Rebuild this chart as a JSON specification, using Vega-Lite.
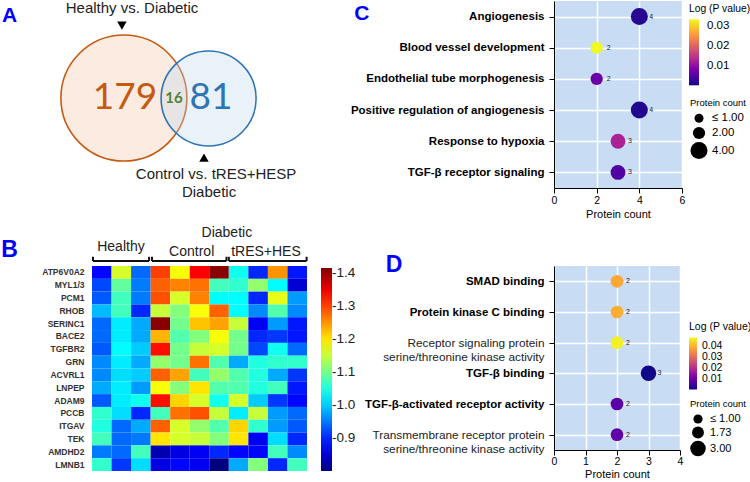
{
  "$schema": "https://vega.github.io/schema/vega-lite/v6.json",
  "background": "white",
  "padding": {"left": 1, "top": 1, "right": 0, "bottom": 0},
  "autosize": {"type": "pad"},
  "config": {
    "font": "Liberation Sans",
    "view": {"stroke": null},
    "axis": {"domainColor": "#000", "tickColor": "#000", "labelColor": "#000", "titleColor": "#000", "gridColor": "#ffffff", "gridWidth": 1.5},
    "legend": {"titleFontWeight": "normal", "titleColor": "#000", "labelColor": "#000"}
  },
  "columns": 2,
  "align": "none",
  "bounds": "flush",
  "spacing": {"row": 78, "column": 242},
  "resolve": {
    "scale": {"x": "independent", "y": "independent", "color": "independent", "size": "independent", "fill": "independent", "stroke": "independent", "shape": "independent"},
    "legend": {"color": "independent", "size": "independent"}
  },
  "concat": [
    {
      "width": 220,
      "height": 187,
      "encoding": {
        "x": {"field": "x", "type": "quantitative", "scale": {"domain": [0, 100], "nice": false, "zero": false}, "axis": null},
        "y": {"field": "y", "type": "quantitative", "scale": {"domain": [0, 85], "reverse": true, "nice": false, "zero": false}, "axis": null}
      },
      "layer": [
        {
          "data": {"values": [
            {"set": "Healthy vs. Diabetic", "x": 14.5, "y": 44.1, "n": 195},
            {"set": "Control vs. tRES+HES", "x": 53.0, "y": 44.3, "n": 97}
          ]},
          "mark": {"type": "point", "shape": "circle", "filled": true, "opacity": 1, "fillOpacity": 0.35, "strokeOpacity": 1, "strokeWidth": 1.6},
          "encoding": {
            "fill": {"field": "set", "type": "nominal", "scale": {"domain": ["Healthy vs. Diabetic", "Control vs. tRES+HES"], "range": ["#f6c6a6", "#c0d7ee"]}, "legend": null},
            "stroke": {"field": "set", "type": "nominal", "scale": {"domain": ["Healthy vs. Diabetic", "Control vs. tRES+HES"], "range": ["#c55a11", "#2e75b6"]}, "legend": null},
            "size": {"field": "n", "type": "quantitative", "scale": {"domain": [97, 195], "range": [9025, 15876]}, "legend": null},
            "order": {"field": "n", "sort": "descending"}
          }
        },
        {
          "data": {"values": [
            {"dir": "down", "x": 13.6, "y": 11.2},
            {"dir": "up", "x": 50.9, "y": 71.2}
          ]},
          "mark": {"type": "point", "filled": true, "opacity": 1, "color": "#000", "size": 90},
          "encoding": {
            "shape": {"field": "dir", "type": "nominal", "scale": {"domain": ["down", "up"], "range": ["triangle-down", "triangle-up"]}, "legend": null}
          }
        },
        {
          "mark": {"type": "rule", "color": "#000", "strokeWidth": 1.2},
          "encoding": {
            "x": {"datum": 5.5, "type": "quantitative"},
            "x2": {"datum": 84.1},
            "y": {"datum": 82.7, "type": "quantitative"}
          }
        },
        {
          "data": {"values": [
            {"set": "Healthy vs. Diabetic", "text": "179", "x": 15.0, "y": 44.1},
            {"set": "Control vs. tRES+HES", "text": "81", "x": 54.1, "y": 44.1}
          ]},
          "mark": {"type": "text", "font": "Lato", "fontSize": 37, "baseline": "middle", "align": "center"},
          "encoding": {
            "text": {"field": "text"},
            "color": {"field": "set", "type": "nominal", "scale": {"domain": ["Healthy vs. Diabetic", "Control vs. tRES+HES"], "range": ["#c55a11", "#2e75b6"]}, "legend": null}
          }
        },
        {
          "data": {"values": [{"text": "16", "x": 37.3, "y": 44.1}]},
          "mark": {"type": "text", "font": "Lato", "fontSize": 15, "fontWeight": "bold", "baseline": "middle", "align": "center", "color": "#548235"},
          "encoding": {"text": {"field": "text"}}
        },
        {
          "data": {"values": [
            {"text": "Healthy vs. Diabetic", "x": 18.2, "y": 3.4},
            {"text": "Control vs. tRES+HESP", "x": 56.4, "y": 78.6},
            {"text": "Diabetic", "x": 53.2, "y": 86.8}
          ]},
          "mark": {"type": "text", "fontSize": 15, "baseline": "middle", "align": "center", "color": "#222"},
          "encoding": {"text": {"field": "text"}}
        },
        {
          "data": {"values": [
            {"text": "A", "x": -37.5, "y": 6.8},
            {"text": "C", "x": 122.7, "y": 5.7}
          ]},
          "mark": {"type": "text", "fontSize": 21, "fontWeight": "bold", "baseline": "middle", "align": "center", "color": "#0000ff"},
          "encoding": {"text": {"field": "text"}}
        }
      ]
    },
    {
      "width": 128,
      "height": 187,
      "view": {"fill": "#c8dcf4", "stroke": null},
      "data": {"values": [
        {"term": "Angiogenesis", "count": 4, "logp": 0.0015},
        {"term": "Blood vessel development", "count": 2, "logp": 0.0335},
        {"term": "Endothelial tube morphogenesis", "count": 2, "logp": 0.0068},
        {"term": "Positive regulation of angiogenesis", "count": 4, "logp": 0.001},
        {"term": "Response to hypoxia", "count": 3, "logp": 0.0125},
        {"term": "TGF-β receptor signaling", "count": 3, "logp": 0.0045}
      ]},
      "encoding": {
        "y": {"field": "term", "type": "nominal", "sort": ["Angiogenesis", "Blood vessel development", "Endothelial tube morphogenesis", "Positive regulation of angiogenesis", "Response to hypoxia", "TGF-β receptor signaling"], "title": null,
          "axis": {"labelFontSize": 11.5, "labelFontWeight": "bold", "labelLimit": 300, "tickSize": 5, "labelPadding": 5, "grid": true, "domainColor": "#000", "domainWidth": 1}},
        "x": {"field": "count", "type": "quantitative", "scale": {"domain": [0, 6], "nice": false},
          "axis": {"title": "Protein count", "values": [0, 2, 4, 6], "grid": true, "labelFontSize": 10.5, "titleFontSize": 11, "titleFontWeight": "normal", "tickSize": 5, "labelPadding": 2, "titlePadding": 3, "labelFlush": false}}
      },
      "layer": [
        {
          "mark": {"type": "point", "shape": "circle", "filled": true, "opacity": 1},
          "encoding": {
            "size": {"field": "count", "type": "quantitative", "scale": {"domain": [1, 4], "range": [80, 290]},
              "legend": {"title": "Protein count", "orient": "none", "legendX": 136, "legendY": 97, "values": [1, 2, 4], "titleFontSize": 9.5, "labelFontSize": 11.5, "symbolType": "circle", "symbolFillColor": "#000", "symbolStrokeWidth": 0, "symbolOpacity": 1, "labelExpr": "datum.value <= 1 ? '≤  1.00' : format(datum.value, '.2f')", "rowPadding": 2}},
            "color": {"field": "logp", "type": "quantitative", "scale": {"scheme": "plasma", "domain": [0, 0.0335]},
              "legend": {"title": "Log (P value)", "orient": "none", "legendX": 135, "legendY": 3, "direction": "vertical", "values": [0.01, 0.02, 0.03], "format": ".2f", "gradientLength": 66, "gradientThickness": 10, "gradientStrokeWidth": 0, "titleFontSize": 10.3, "labelFontSize": 11.5, "labelOffset": 8}}
          }
        },
        {
          "mark": {"type": "text", "align": "left", "dx": 10, "fontSize": 7, "color": "#222", "baseline": "middle"},
          "encoding": {"text": {"field": "count"}}
        }
      ]
    },
    {
      "width": 215,
      "height": 205,
      "view": {"stroke": null},
      "resolve": {"scale": {"x": "independent", "y": "independent"}},
      "layer": [
        {
          "data": {"values": [
            {"gene": "ATP6V0A2", "H1": 0.88, "H2": 1.16, "H3": 0.94, "C1": 1.30, "C2": 1.18, "C3": 1.34, "C4": 1.41, "T1": 1.04, "T2": 0.90, "T3": 1.25, "T4": 0.89},
            {"gene": "MYL1/3", "H1": 0.92, "H2": 1.09, "H3": 0.95, "C1": 1.28, "C2": 1.26, "C3": 1.27, "C4": 1.07, "T1": 1.06, "T2": 1.12, "T3": 1.03, "T4": 0.85},
            {"gene": "PCM1", "H1": 0.93, "H2": 1.07, "H3": 0.95, "C1": 1.29, "C2": 1.16, "C3": 1.26, "C4": 1.03, "T1": 1.03, "T2": 0.90, "T3": 1.17, "T4": 0.97},
            {"gene": "RHOB", "H1": 0.99, "H2": 1.07, "H3": 0.90, "C1": 1.15, "C2": 1.11, "C3": 1.18, "C4": 1.28, "T1": 1.03, "T2": 0.96, "T3": 1.08, "T4": 0.96},
            {"gene": "SERINC1", "H1": 0.94, "H2": 1.02, "H3": 0.98, "C1": 1.41, "C2": 1.10, "C3": 1.22, "C4": 1.24, "T1": 1.15, "T2": 0.87, "T3": 0.97, "T4": 0.89},
            {"gene": "BACE2", "H1": 0.94, "H2": 1.02, "H3": 0.98, "C1": 1.23, "C2": 1.08, "C3": 1.11, "C4": 1.18, "T1": 1.10, "T2": 0.90, "T3": 0.91, "T4": 0.89},
            {"gene": "TGFBR2", "H1": 0.93, "H2": 1.03, "H3": 1.00, "C1": 1.33, "C2": 1.10, "C3": 1.15, "C4": 1.16, "T1": 1.10, "T2": 0.92, "T3": 1.04, "T4": 0.94},
            {"gene": "GRN", "H1": 0.96, "H2": 1.02, "H3": 0.98, "C1": 1.12, "C2": 1.10, "C3": 1.27, "C4": 1.08, "T1": 0.98, "T2": 1.05, "T3": 1.06, "T4": 1.06},
            {"gene": "ACVRL1", "H1": 0.96, "H2": 1.01, "H3": 1.00, "C1": 1.28, "C2": 1.24, "C3": 1.07, "C4": 1.12, "T1": 1.08, "T2": 1.05, "T3": 0.98, "T4": 0.91},
            {"gene": "LNPEP", "H1": 0.98, "H2": 1.02, "H3": 0.97, "C1": 1.18, "C2": 1.11, "C3": 1.20, "C4": 1.08, "T1": 1.08, "T2": 1.05, "T3": 1.07, "T4": 0.89},
            {"gene": "ADAM9", "H1": 0.93, "H2": 1.02, "H3": 1.04, "C1": 1.33, "C2": 1.21, "C3": 1.16, "C4": 1.04, "T1": 1.16, "T2": 1.00, "T3": 0.91, "T4": 0.88},
            {"gene": "PCCB", "H1": 1.06, "H2": 1.01, "H3": 0.90, "C1": 1.07, "C2": 1.27, "C3": 1.29, "C4": 1.15, "T1": 1.02, "T2": 1.15, "T3": 0.97, "T4": 0.94},
            {"gene": "ITGAV", "H1": 1.05, "H2": 0.94, "H3": 0.98, "C1": 1.28, "C2": 1.16, "C3": 1.12, "C4": 1.08, "T1": 1.21, "T2": 1.06, "T3": 0.97, "T4": 0.93},
            {"gene": "TEK", "H1": 1.07, "H2": 0.94, "H3": 0.95, "C1": 1.20, "C2": 1.16, "C3": 1.15, "C4": 1.11, "T1": 1.20, "T2": 0.87, "T3": 1.01, "T4": 0.90},
            {"gene": "AMDHD2", "H1": 0.95, "H2": 0.94, "H3": 1.07, "C1": 0.83, "C2": 0.86, "C3": 0.87, "C4": 0.90, "T1": 0.88, "T2": 0.88, "T3": 1.07, "T4": 0.96},
            {"gene": "LMNB1", "H1": 1.06, "H2": 0.91, "H3": 1.01, "C1": 0.86, "C2": 0.88, "C3": 0.87, "C4": 0.80, "T1": 0.98, "T2": 1.11, "T3": 0.90, "T4": 1.07}
          ]},
          "transform": [{"fold": ["H1", "H2", "H3", "C1", "C2", "C3", "C4", "T1", "T2", "T3", "T4"], "as": ["sample", "value"]}],
          "mark": {"type": "rect"},
          "encoding": {
            "x": {"field": "sample", "type": "nominal", "sort": ["H1", "H2", "H3", "C1", "C2", "C3", "C4", "T1", "T2", "T3", "T4"], "scale": {"paddingInner": 0, "paddingOuter": 0}, "axis": null},
            "y": {"field": "gene", "type": "nominal", "sort": ["ATP6V0A2", "MYL1/3", "PCM1", "RHOB", "SERINC1", "BACE2", "TGFBR2", "GRN", "ACVRL1", "LNPEP", "ADAM9", "PCCB", "ITGAV", "TEK", "AMDHD2", "LMNB1"], "scale": {"paddingInner": 0, "paddingOuter": 0},
              "axis": {"title": null, "ticks": false, "domain": false, "labelFontSize": 8.5, "labelFontWeight": "bold", "labelColor": "#333", "labelPadding": 8}},
            "color": {"field": "value", "type": "quantitative",
              "scale": {"domain": [0.8, 1.415], "range": ["#000080", "#0000ff", "#0080ff", "#00ffff", "#80ff80", "#ffff00", "#ff8000", "#ff0000", "#800000"], "interpolate": "rgb"},
              "legend": {"title": null, "orient": "none", "legendX": 229, "legendY": 2, "direction": "vertical", "values": [0.9, 1.0, 1.1, 1.2, 1.3, 1.4], "format": ".1f", "labelExpr": "'-' + datum.label", "gradientLength": 203, "gradientThickness": 11, "gradientStrokeWidth": 0, "labelFontSize": 13.5, "labelOffset": 0, "labelColor": "#222"}}
          }
        },
        {
          "data": {"values": [
            {"text": "Healthy", "x": 1.48, "y": -1.48},
            {"text": "Control", "x": 5.1, "y": -1.09},
            {"text": "tRES+HES", "x": 8.9, "y": -1.09},
            {"text": "Diabetic", "x": 6.9, "y": -2.58}
          ]},
          "mark": {"type": "text", "fontSize": 14, "baseline": "middle", "align": "center", "color": "#222"},
          "encoding": {
            "x": {"field": "x", "type": "quantitative", "scale": {"domain": [0, 11], "nice": false, "zero": false}, "axis": null},
            "y": {"field": "y", "type": "quantitative", "scale": {"domain": [0, 16], "reverse": true, "nice": false, "zero": false}, "axis": null},
            "text": {"field": "text"}
          }
        },
        {
          "data": {"values": [
            {"group": "Healthy", "start": 0.05, "end": 2.92},
            {"group": "Control", "start": 3.07, "end": 6.88},
            {"group": "tRES+HES", "start": 7.0, "end": 10.98}
          ]},
          "mark": {"type": "rule", "color": "#111", "strokeWidth": 2},
          "encoding": {
            "x": {"field": "start", "type": "quantitative", "scale": {"domain": [0, 11], "nice": false, "zero": false}, "axis": null},
            "x2": {"field": "end"},
            "y": {"datum": -0.39, "type": "quantitative", "scale": {"domain": [0, 16], "reverse": true, "nice": false, "zero": false}, "axis": null}
          }
        },
        {
          "data": {"values": [
            {"group": "Healthy", "start": 0.05, "end": 2.92},
            {"group": "Control", "start": 3.07, "end": 6.88},
            {"group": "tRES+HES", "start": 7.0, "end": 10.98}
          ]},
          "mark": {"type": "rule", "color": "#111", "strokeWidth": 2},
          "encoding": {
            "x": {"field": "start", "type": "quantitative", "scale": {"domain": [0, 11], "nice": false, "zero": false}, "axis": null},
            "y": {"datum": -0.39, "type": "quantitative", "scale": {"domain": [0, 16], "reverse": true, "nice": false, "zero": false}, "axis": null},
            "y2": {"datum": -0.72}
          }
        },
        {
          "data": {"values": [
            {"group": "Healthy", "start": 0.05, "end": 2.92},
            {"group": "Control", "start": 3.07, "end": 6.88},
            {"group": "tRES+HES", "start": 7.0, "end": 10.98}
          ]},
          "mark": {"type": "rule", "color": "#111", "strokeWidth": 2},
          "encoding": {
            "x": {"field": "end", "type": "quantitative", "scale": {"domain": [0, 11], "nice": false, "zero": false}, "axis": null},
            "y": {"datum": -0.39, "type": "quantitative", "scale": {"domain": [0, 16], "reverse": true, "nice": false, "zero": false}, "axis": null},
            "y2": {"datum": -0.72}
          }
        },
        {
          "data": {"values": [
            {"text": "B", "x": -4.22, "y": -1.25},
            {"text": "D", "x": 15.45, "y": -0.08}
          ]},
          "mark": {"type": "text", "fontSize": 23, "fontWeight": "bold", "baseline": "middle", "align": "center", "color": "#0000ff"},
          "encoding": {
            "x": {"field": "x", "type": "quantitative", "scale": {"domain": [0, 11], "nice": false, "zero": false}, "axis": null},
            "y": {"field": "y", "type": "quantitative", "scale": {"domain": [0, 16], "reverse": true, "nice": false, "zero": false}, "axis": null},
            "text": {"field": "text"}
          }
        }
      ]
    },
    {
      "width": 126,
      "height": 184,
      "view": {"fill": "#c8dcf4", "stroke": null},
      "data": {"values": [
        {"term": "SMAD binding", "count": 2, "logp": 0.038},
        {"term": "Protein kinase C binding", "count": 2, "logp": 0.039},
        {"term": "Receptor signaling protein\nserine/threonine kinase activity", "count": 2, "logp": 0.0465},
        {"term": "TGF-β binding", "count": 3, "logp": 0.0003},
        {"term": "TGF-β-activated receptor activity", "count": 2, "logp": 0.0075},
        {"term": "Transmembrane receptor protein\nserine/threonine kinase activity", "count": 2, "logp": 0.0085}
      ]},
      "encoding": {
        "y": {"field": "term", "type": "nominal", "sort": ["SMAD binding", "Protein kinase C binding", "Receptor signaling protein\nserine/threonine kinase activity", "TGF-β binding", "TGF-β-activated receptor activity", "Transmembrane receptor protein\nserine/threonine kinase activity"], "title": null,
          "axis": {"labelExpr": "split(datum.label, '\\n')", "labelLineHeight": 14, "labelFontSize": {"condition": {"test": "indexof(datum.value, '\\n') >= 0", "value": 11.8}, "value": 11.5}, "labelFontWeight": {"condition": {"test": "indexof(datum.value, '\\n') >= 0", "value": "normal"}, "value": "bold"}, "labelColor": {"condition": {"test": "indexof(datum.value, '\\n') >= 0", "value": "#222"}, "value": "#000"}, "labelLimit": 300, "tickSize": 5, "labelPadding": 5, "grid": true}},
        "x": {"field": "count", "type": "quantitative", "scale": {"domain": [0, 4], "nice": false},
          "axis": {"title": "Protein count", "values": [0, 1, 2, 3, 4], "grid": true, "labelFontSize": 10.5, "titleFontSize": 11, "titleFontWeight": "normal", "tickSize": 5, "labelPadding": 1, "titlePadding": 2, "labelFlush": false}}
      },
      "layer": [
        {
          "mark": {"type": "point", "shape": "circle", "filled": true, "opacity": 1},
          "encoding": {
            "size": {"field": "count", "type": "quantitative", "scale": {"domain": [1, 3], "range": [85, 240]},
              "legend": {"title": "Protein count", "orient": "none", "legendX": 136, "legendY": 133, "values": [1, 1.73, 3], "titleFontSize": 9.5, "labelFontSize": 11, "symbolType": "circle", "symbolFillColor": "#000", "symbolStrokeWidth": 0, "symbolOpacity": 1, "labelExpr": "datum.value <= 1 ? '≤  1.00' : format(datum.value, '.2f')", "rowPadding": 2}},
            "color": {"field": "logp", "type": "quantitative", "scale": {"scheme": "plasma", "domain": [0, 0.0475]},
              "legend": {"title": "Log (P value)", "orient": "none", "legendX": 135, "legendY": 56, "direction": "vertical", "values": [0.01, 0.02, 0.03, 0.04], "format": ".2f", "gradientLength": 52, "gradientThickness": 8, "gradientStrokeWidth": 0, "titleFontSize": 10.5, "labelFontSize": 10.5, "labelOffset": 5, "labelOverlap": false}}
          }
        },
        {
          "mark": {"type": "text", "align": "left", "dx": 9, "fontSize": 7, "color": "#222", "baseline": "middle"},
          "encoding": {"text": {"field": "count"}}
        }
      ]
    }
  ]
}
